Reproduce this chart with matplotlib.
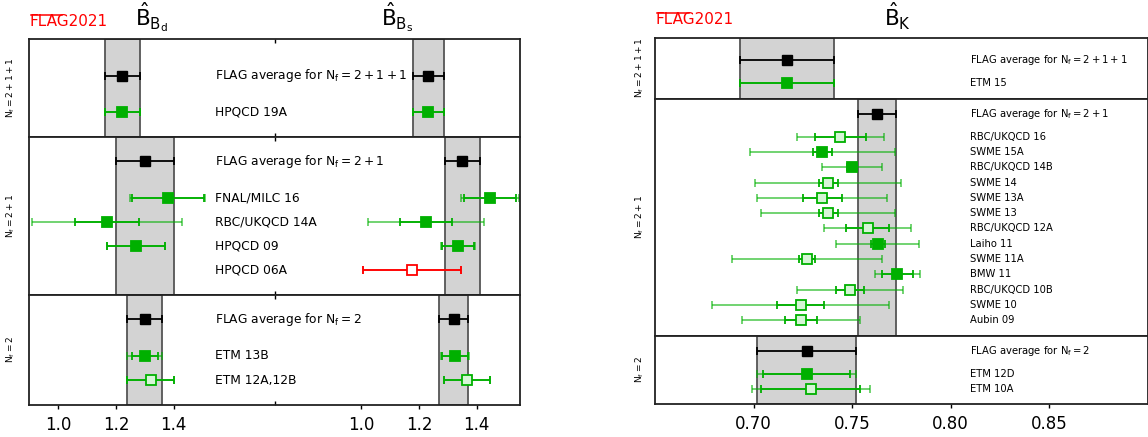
import numpy as np
import matplotlib.pyplot as plt
from matplotlib.lines import Line2D

# ---- data: B_Bd / B_Bs (left) ----
groups = [r'$\mathrm{N_f=2+1+1}$', r'$\mathrm{N_f=2+1}$', r'$\mathrm{N_f=2}$']
flag_txt = [r'FLAG average for $\mathrm{N_f=2+1+1}$',
            r'FLAG average for $\mathrm{N_f=2+1}$',
            r'FLAG average for $\mathrm{N_f=2}$']

flag_bd = [1.222, 1.30, 1.30]
flag_bd_err = [0.061, 0.10, 0.06]
flag_bs = [1.232, 1.35, 1.32]
flag_bs_err = [0.053, 0.06, 0.05]

bb_names = [['HPQCD 19A'],
            ['FNAL/MILC 16', 'RBC/UKQCD 14A', 'HPQCD 09', 'HPQCD 06A'],
            ['ETM 13B', 'ETM 12A,12B']]
bd_val = [[1.222], [1.38, 1.17, 1.27, None], [1.30, 1.32]]
bd_stat = [[0.061], [0.125, 0.11, 0.10, None], [0.045, 0.08]]
bd_tot = [[0.061], [0.13, 0.26, 0.10, None], [0.06, 0.08]]
bs_val = [[1.232], [1.445, 1.225, 1.335, 1.175], [1.325, 1.365]]
bs_stat = [[0.053], [0.09, 0.09, 0.055, 0.17], [0.045, 0.08]]
bs_tot = [[0.053], [0.10, 0.20, 0.06, 0.17], [0.05, 0.08]]
bb_style = [['full'], ['full', 'full', 'full', 'red'], ['full', 'open']]

# ---- data: B_K (right) ----
flag_bk = [0.717, 0.7625, 0.727]
flag_bk_err = [0.024, 0.0097, 0.025]
bk_names = [['ETM 15'],
            ['RBC/UKQCD 16', 'SWME 15A', 'RBC/UKQCD 14B', 'SWME 14', 'SWME 13A',
             'SWME 13', 'RBC/UKQCD 12A', 'Laiho 11', 'SWME 11A', 'BMW 11',
             'RBC/UKQCD 10B', 'SWME 10', 'Aubin 09'],
            ['ETM 12D', 'ETM 10A']]
bk_val = [[0.717],
          [0.744, 0.735, 0.750, 0.738, 0.735, 0.738, 0.758, 0.763, 0.727, 0.773,
           0.749, 0.724, 0.724],
          [0.727, 0.729]]
bk_stat = [[0.024],
           [0.013, 0.005, 0.0024, 0.0047, 0.010, 0.0047, 0.011, 0.0036, 0.004,
            0.008, 0.007, 0.012, 0.008],
           [0.022, 0.025]]
bk_tot = [[0.024],
          [0.022, 0.037, 0.015, 0.037, 0.033, 0.034, 0.022, 0.021, 0.038,
           0.0115, 0.027, 0.045, 0.030],
          [0.025, 0.030]]
bk_style = [['full'],
            ['open', 'full', 'full', 'open', 'open', 'open', 'open', 'full', 'open',
             'full', 'open', 'open', 'open'],
            ['full', 'open']]

BS_SHIFT = 1.05
GREEN = '#00b000'
LIGHT = '#d6f5d6'
BAND = '#d3d3d3'
BAND_EDGE = '#555555'

W, H = 1148, 437
fig = plt.figure(figsize=(W / 100, H / 100), dpi=100)


def px_rect(x0, x1, y0, y1):
    return [x0 / W, 1 - y1 / H, (x1 - x0) / W, (y1 - y0) / H]


def point(ax, x, y, stat, tot, style):
    if style == 'red':
        col, mfc = 'red', 'white'
    elif style == 'open':
        col, mfc = GREEN, LIGHT
    else:
        col, mfc = GREEN, GREEN
    ax.errorbar(x, y, xerr=tot, fmt='none', ecolor=col, alpha=0.6,
                elinewidth=1.3, capsize=2.8, capthick=1.3)
    ax.errorbar(x, y, xerr=stat, fmt='none', ecolor=col,
                elinewidth=1.3, capsize=2.8, capthick=1.3)
    ax.plot(x, y, 's', ms=7.5, mfc=mfc, mec=col, mew=1.3, zorder=5)


def band(ax, c, e):
    ax.axvspan(c - e, c + e, fc=BAND, ec=BAND_EDGE, lw=1.3, zorder=0)


def flag_point(ax, c, e, y):
    ax.errorbar(c, y, xerr=e, fmt='s', color='black', ms=7.5,
                elinewidth=1.3, capsize=2.8, capthick=1.3, zorder=5)


def frame(ax):
    for s in ax.spines.values():
        s.set_linewidth(1.3)
        s.set_color('#222222')
    ax.set_yticks([])


def flag_logo(x, y, x1):
    # red "FLAG2021" with the bar over FLA
    fig.text(x / W, 1 - y / H, 'FLAG2021', color='red', fontsize=11, va='baseline')
    fig.add_artist(Line2D([(x + 1) / W, x1 / W], [1 - (y - 11.5) / H] * 2,
                          color='red', lw=1.1))


# ---- left panel ----
left_rows = [(39.3, 136.7), (136.7, 294.8), (294.8, 404.5)]
left_axes = []
for k in range(3):
    ax = fig.add_axes(px_rect(29.3, 520, *left_rows[k]))
    left_axes.append(ax)
    n = len(bb_names[k])
    ys = np.arange(n)[::-1]
    yf = n + 0.5
    band(ax, flag_bd[k], flag_bd_err[k])
    band(ax, flag_bs[k] + BS_SHIFT, flag_bs_err[k])
    flag_point(ax, flag_bd[k], flag_bd_err[k], yf)
    flag_point(ax, flag_bs[k] + BS_SHIFT, flag_bs_err[k], yf)
    ax.text(1.545, yf, flag_txt[k], va='center', fontsize=8.8)
    for i, name in enumerate(bb_names[k]):
        if bd_val[k][i] is not None:
            point(ax, bd_val[k][i], ys[i], bd_stat[k][i], bd_tot[k][i], bb_style[k][i])
        point(ax, bs_val[k][i] + BS_SHIFT, ys[i], bs_stat[k][i], bs_tot[k][i], bb_style[k][i])
        ax.text(1.545, ys[i], name, va='center', fontsize=8.8)
    ax.set_xlim(0.9, 2.6)
    ax.set_ylim(-1, n + 2 if k == 0 else n + 1.5)
    frame(ax)
    ax.set_xticks([1.0, 1.2, 1.4, 2.05, 2.25, 2.45])
    ax.set_xticks([1.75], minor=True)
    ax.tick_params(axis='x', which='minor', direction='in', top=True, bottom=True,
                   length=3, width=1)
    if k == 2:
        ax.set_xticklabels(['1.0', '1.2', '1.4', '1.0', '1.2', '1.4'], fontsize=12)
        ax.tick_params(axis='x', which='major', length=3, width=1, pad=5)
    else:
        ax.tick_params(axis='x', which='major', length=0, labelbottom=False)
    ax.set_ylabel(groups[k], fontsize=6.5)
    ax.yaxis.set_label_coords(-0.026, 0.5)

tr = left_axes[0].get_xaxis_transform()
left_axes[0].text(1.265, 1.137, r'$\hat{\mathrm{B}}_{\mathrm{B_d}}$', fontsize=15.5,
                  transform=tr, va='baseline')
left_axes[0].text(2.12, 1.137, r'$\hat{\mathrm{B}}_{\mathrm{B_s}}$', fontsize=15.5,
                  transform=tr, va='baseline')
flag_logo(29.5, 26, 62)

# ---- right panel ----
right_rows = [(37.5, 98.5), (98.5, 335.5), (335.5, 404.3)]
right_axes = []
for k in range(3):
    ax = fig.add_axes(px_rect(655, 1147.5, *right_rows[k]))
    right_axes.append(ax)
    n = len(bk_names[k])
    ys = np.arange(n)[::-1]
    yf = n + 0.5
    band(ax, flag_bk[k], flag_bk_err[k])
    flag_point(ax, flag_bk[k], flag_bk_err[k], yf)
    ax.text(0.81, yf, flag_txt[k], va='center', fontsize=7.2)
    for i, name in enumerate(bk_names[k]):
        point(ax, bk_val[k][i], ys[i], bk_stat[k][i], bk_tot[k][i], bk_style[k][i])
        ax.text(0.81, ys[i], name, va='center', fontsize=7.2)
    ax.set_xlim(0.65, 0.90)
    ax.set_ylim(-1, n + 2 if k == 0 else n + 1.5)
    frame(ax)
    ax.set_xticks([0.70, 0.75, 0.80, 0.85])
    if k == 2:
        ax.set_xticklabels(['0.70', '0.75', '0.80', '0.85'], fontsize=12)
        ax.tick_params(axis='x', length=3, width=1, pad=5)
    else:
        ax.tick_params(axis='x', length=0, labelbottom=False)
    ax.set_ylabel(groups[k], fontsize=6.5)
    ax.yaxis.set_label_coords(-0.019, 0.5)

right_axes[0].text(0.766, 1.189, r'$\hat{\mathrm{B}}_{\mathrm{K}}$', fontsize=15.5,
                   transform=right_axes[0].get_xaxis_transform(), va='baseline')
flag_logo(655.5, 24.5, 689)

fig.savefig('out.png', dpi=100)
